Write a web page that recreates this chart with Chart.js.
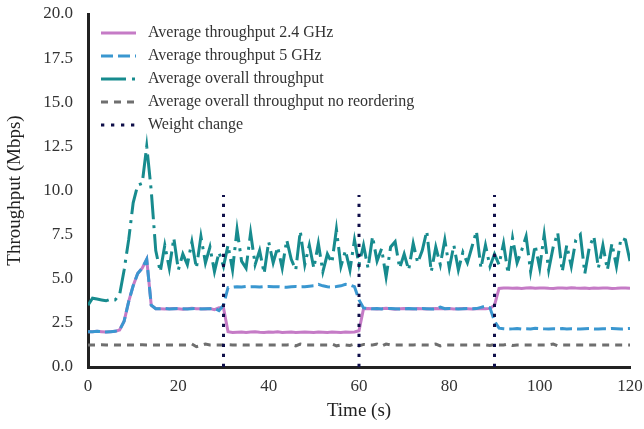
<!DOCTYPE html>
<html>
<head>
<meta charset="utf-8">
<script src="https://cdn.jsdelivr.net/npm/chart.js@4"></script>
<style>
  html, body { margin: 0; padding: 0; background: #fff; }
  canvas { display: block; }
</style>
</head>
<body>
<canvas id="throughput-chart" width="644" height="429"></canvas>
<script>
// sample times (s), one sample per second
const timeSec = Array.from({ length: 121 }, (_, i) => i);

const tp24 = [
  2.0, 2.0, 2.02, 2.0, 1.98, 2.0, 2.02, 2.1, 2.6, 3.7,
  4.6, 5.3, 5.6, 6.1, 3.5, 3.3, 3.3, 3.28, 3.3, 3.32,
  3.3, 3.27, 3.3, 3.33, 3.3, 3.3, 3.28, 3.31, 3.25, 3.35,
  3.35, 2.0, 1.95, 1.97, 1.98, 1.96, 1.98, 2.0, 1.97, 1.96,
  1.98, 1.97, 1.99, 1.96, 1.97, 1.98, 1.96, 1.97, 1.98, 1.97,
  1.96, 1.98, 1.97, 1.96, 1.98, 1.97, 1.96, 1.98, 1.97, 1.98,
  2.05, 3.3, 3.32, 3.3, 3.28, 3.3, 3.33, 3.3, 3.27, 3.3,
  3.32, 3.3, 3.29, 3.31, 3.3, 3.28, 3.3, 3.32, 3.3, 3.3,
  3.31, 3.29, 3.3, 3.32, 3.3, 3.28, 3.3, 3.31, 3.3, 3.32,
  3.5, 4.45, 4.48, 4.47, 4.46, 4.48, 4.45, 4.47, 4.49, 4.46,
  4.47, 4.48, 4.46, 4.45, 4.48, 4.47, 4.46, 4.49, 4.47, 4.46,
  4.48, 4.45, 4.47, 4.46, 4.48, 4.47, 4.45, 4.46, 4.48, 4.47,
  4.46
];

const tp5 = [
  2.0, 2.0, 2.02, 2.0, 1.98, 2.0, 2.02, 2.1, 2.6, 3.7,
  4.6, 5.3, 5.6, 6.1, 3.5, 3.3, 3.3, 3.32, 3.29, 3.3,
  3.31, 3.3, 3.28, 3.3, 3.32, 3.29, 3.3, 3.3, 3.33, 3.2,
  3.5, 4.5, 4.52, 4.55, 4.53, 4.56, 4.54, 4.55, 4.53, 4.55,
  4.56, 4.54, 4.55, 4.53, 4.52, 4.55, 4.56, 4.54, 4.55, 4.58,
  4.6, 4.68, 4.6, 4.55, 4.53, 4.56, 4.6, 4.68, 4.65, 4.55,
  3.8, 3.35, 3.32, 3.3, 3.31, 3.29, 3.3, 3.32, 3.3, 3.28,
  3.3, 3.31, 3.3, 3.29, 3.32, 3.3, 3.28, 3.3, 3.4, 3.3,
  3.31, 3.3, 3.29, 3.3, 3.32, 3.3, 3.31, 3.38, 3.45, 3.35,
  2.6, 2.2, 2.17, 2.15, 2.16, 2.18, 2.15, 2.17, 2.16, 2.2,
  2.18, 2.16, 2.15, 2.17, 2.16, 2.18, 2.15, 2.17, 2.16, 2.15,
  2.17, 2.18, 2.16, 2.15, 2.17, 2.16, 2.18, 2.17, 2.15, 2.17,
  2.18
];

const tpOverall = [
  3.5, 3.9, 3.85, 3.8, 3.75, 3.85, 3.8, 4.1, 5.5, 7.2,
  9.3, 10.3, 10.4, 12.5, 10.0, 6.6, 5.4, 6.9, 5.6, 7.3,
  5.5, 6.4, 5.8, 7.1, 5.6, 7.4, 5.9, 6.8, 5.4, 6.5,
  5.7, 6.9, 5.5, 7.8, 6.0, 5.6, 7.6, 5.8, 6.6, 5.3,
  7.1, 5.9, 6.8, 5.6, 7.2, 6.1, 5.5, 7.7, 5.8, 6.9,
  5.6, 7.0, 5.4, 6.4, 5.9, 7.8, 5.7, 6.6, 5.5, 7.2,
  5.8, 6.9, 5.6, 7.4, 6.0, 6.7, 5.1, 6.8, 7.1, 5.6,
  6.4, 5.5, 7.0, 5.9, 6.6, 7.7, 5.4, 6.8, 5.8, 7.2,
  5.6, 6.9, 5.5, 6.5, 5.9, 6.8, 7.7, 5.6, 6.9, 5.7,
  6.4, 5.8, 7.0, 5.3, 7.3, 5.9, 6.6, 7.4, 5.4, 6.9,
  5.6, 7.5, 5.5, 6.8, 7.6, 5.4, 6.9, 5.7, 7.2, 7.5,
  5.3, 6.8, 7.4, 5.6, 6.9, 5.5, 7.0, 5.7, 7.3, 7.2,
  6.0
];

const tpNoReorder = [
  1.25, 1.25, 1.25, 1.26, 1.25, 1.25, 1.24, 1.25, 1.25, 1.25,
  1.25, 1.25, 1.26, 1.25, 1.25, 1.25, 1.25, 1.24, 1.25, 1.25,
  1.25, 1.25, 1.25, 1.3, 1.15, 1.22, 1.3, 1.25, 1.25, 1.25,
  1.25, 1.26, 1.25, 1.25, 1.25, 1.24, 1.25, 1.25, 1.25, 1.25,
  1.25, 1.25, 1.25, 1.25, 1.25, 1.26, 1.2, 1.3, 1.25, 1.25,
  1.25, 1.25, 1.25, 1.25, 1.3, 1.2, 1.25, 1.25, 1.22, 1.3,
  1.2, 1.28, 1.25, 1.25, 1.3, 1.18, 1.3, 1.25, 1.25, 1.25,
  1.25, 1.25, 1.25, 1.26, 1.25, 1.25, 1.25, 1.3, 1.2, 1.25,
  1.25, 1.25, 1.25, 1.25, 1.25, 1.25, 1.25, 1.25, 1.25, 1.22,
  1.28, 1.25, 1.25, 1.3, 1.22, 1.25, 1.25, 1.25, 1.25, 1.25,
  1.25, 1.25, 1.25, 1.3, 1.2, 1.25, 1.25, 1.25, 1.25, 1.25,
  1.25, 1.25, 1.25, 1.25, 1.25, 1.25, 1.25, 1.25, 1.25, 1.25,
  1.25
];

// moments where the link weights were changed
const weightChangeAt = [30, 60, 90];
const weightLineTop = 9.75;

const FONT = '"Liberation Serif", "Times New Roman", serif';

const toPoints = (values) => timeSec.map((t, i) => ({ x: t, y: values[i] }));

// vertical segments separated by null gaps
const weightPoints = weightChangeAt.flatMap((t) => [
  { x: t, y: 0 },
  { x: t, y: weightLineTop },
  { x: t, y: null },
]);

const base = { pointRadius: 0, borderWidth: 3, tension: 0, fill: false, borderCapStyle: "butt" };

const datasets = [
  { ...base, label: "Average throughput 2.4 GHz", data: toPoints(tp24), borderColor: "#c57bc6", order: 5 },
  { ...base, label: "Average throughput 5 GHz", data: toPoints(tp5), borderColor: "#3a97d0", borderDash: [12, 5], order: 4 },
  { ...base, label: "Average overall throughput", data: toPoints(tpOverall), borderColor: "#178b8e", borderDash: [25, 6, 3, 6], order: 3 },
  { ...base, label: "Average overall throughput no reordering", data: toPoints(tpNoReorder), borderColor: "#6f6f6f", borderDash: [7, 6], order: 2 },
  { ...base, label: "Weight change", data: weightPoints, borderColor: "#10104a", borderDash: [3.3, 6.7], spanGaps: false, order: 1 },
];

// legend drawn inside the plot, top-left
const insideLegend = {
  id: "insideLegend",
  afterDraw(chart) {
    const ctx = chart.ctx;
    const left = chart.chartArea.left + 13;
    chart.data.datasets.forEach((ds, i) => {
      const y = 33 + i * 23;
      ctx.save();
      ctx.strokeStyle = ds.borderColor;
      ctx.lineWidth = ds.borderWidth;
      ctx.lineCap = "butt";
      ctx.setLineDash(ds.borderDash || []);
      ctx.beginPath();
      ctx.moveTo(left, y);
      ctx.lineTo(left + 35, y);
      ctx.stroke();
      ctx.setLineDash([]);
      ctx.fillStyle = "#333";
      ctx.font = "16px " + FONT;
      ctx.textBaseline = "middle";
      ctx.fillText(ds.label, left + 47, y);
      ctx.restore();
    });
  },
};

// fixed axis sizes; drop the label overhang so the plot keeps its own margins
const fixAxis = (size) => (scale) => {
  if (scale.isHorizontal()) scale.height = size;
  else scale.width = size;
  scale.paddingTop = 0;
  scale.paddingBottom = 0;
  scale.paddingLeft = 0;
  scale.paddingRight = 0;
};

const ctx = document.getElementById("throughput-chart").getContext("2d");

new Chart(ctx, {
  type: "line",
  data: { datasets: datasets },
  plugins: [insideLegend],
  options: {
    responsive: false,
    animation: false,
    layout: { padding: { top: 14, right: 14, left: 0, bottom: 0 } },
    plugins: {
      legend: { display: false },
      tooltip: { enabled: false },
    },
    scales: {
      x: {
        type: "linear",
        min: 0,
        max: 120,
        afterFit: fixAxis(62),
        grid: { display: false, drawTicks: false },
        border: { display: true, color: "#222", width: 3 },
        ticks: { stepSize: 20, padding: 9, color: "#333", font: { family: FONT, size: 17 } },
        title: { display: true, text: "Time (s)", color: "#222", padding: { top: 0, bottom: 7 }, font: { family: FONT, size: 19 } },
      },
      y: {
        min: 0,
        max: 20,
        afterFit: fixAxis(88),
        grid: { display: false, drawTicks: false },
        border: { display: true, color: "#222", width: 3 },
        ticks: {
          stepSize: 2.5,
          padding: 15,
          color: "#333",
          font: { family: FONT, size: 17 },
          callback: (v) => v.toFixed(1),
        },
        title: { display: true, text: "Throughput (Mbps)", color: "#222", padding: { top: 4, bottom: 0 }, font: { family: FONT, size: 19 } },
      },
    },
  },
});
</script>
</body>
</html>
